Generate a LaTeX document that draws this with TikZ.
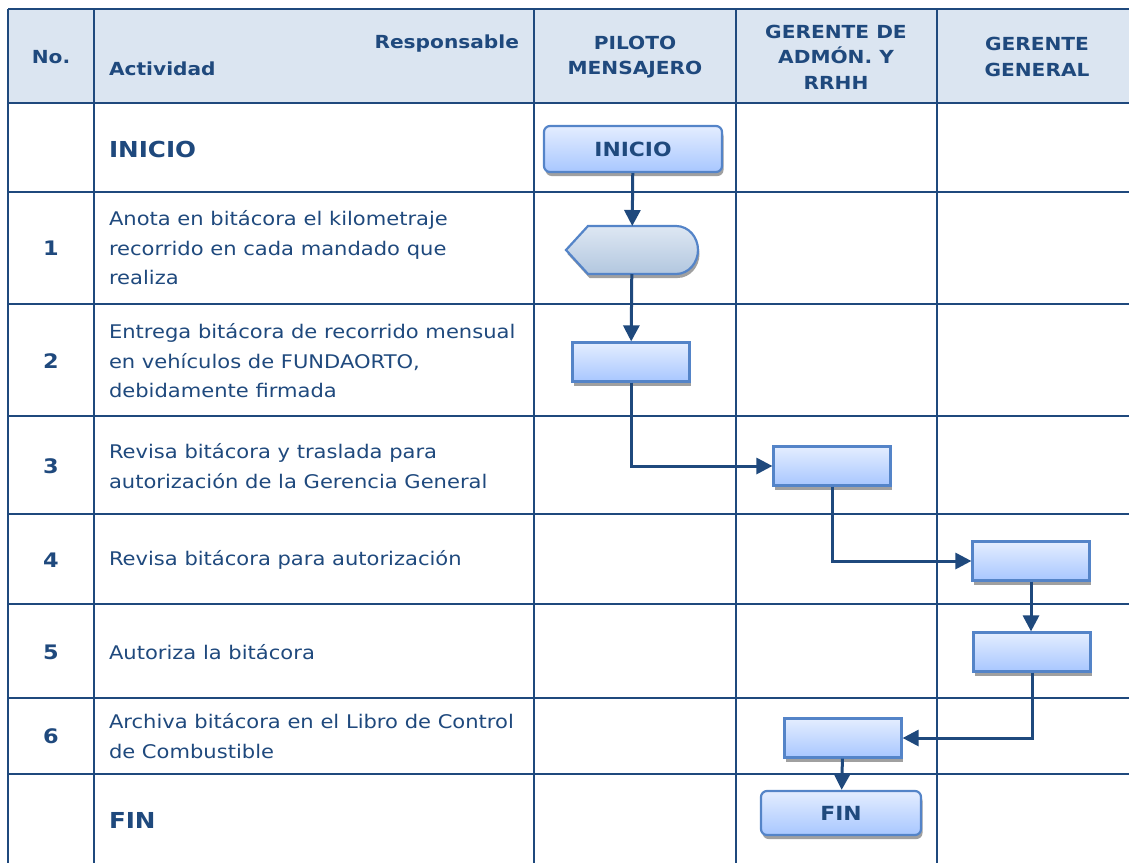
\documentclass[tikz,border=0pt]{standalone}
\usepackage{fontspec}
\setmainfont{DejaVu Sans}[FakeStretch=1.12]
\usetikzlibrary{arrows.meta,positioning,calc,shadows}
\definecolor{ink}{RGB}{31,73,125}
\definecolor{headfill}{RGB}{219,229,241}
\definecolor{boxtop}{RGB}{228,237,255}
\definecolor{boxbot}{RGB}{168,199,255}
\definecolor{boxline}{RGB}{84,132,200}
\definecolor{hextop}{RGB}{222,231,243}
\definecolor{hexbot}{RGB}{178,199,223}
\definecolor{shade}{RGB}{160,160,160}
\tikzset{
  every picture/.style={color=ink, line width=2pt, font=\fontsize{18.8}{29.5}\selectfont},
  grid/.style={draw=ink, line width=2.7pt},
  shad/.style={drop shadow={shadow xshift=1.5pt, shadow yshift=-4pt, fill=shade, opacity=1}},
  task/.style={draw=boxline, line width=2.2pt, top color=boxtop, bottom color=boxbot, shad,
    minimum width=117pt, minimum height=39pt, inner sep=0pt},
  term/.style={task, rounded corners=6pt, text=ink, font=\fontsize{19.5}{22}\selectfont\bfseries},
  hexslot/.style={minimum width=130pt, minimum height=46pt, inner sep=0pt},
  hexa/.style={draw=boxline, line width=2.2pt, top color=hextop, bottom color=hexbot, shad},
  flow/.style={-{Triangle[length=16pt,width=16pt]}, draw=ink, line width=3pt},
  head/.style={font=\fontsize{18}{25.5}\selectfont\bfseries, text=ink, align=center, inner sep=0pt},
  txt/.style={text=ink, anchor=west, align=left, inner sep=0pt},
  num/.style={font=\fontsize{20}{22}\selectfont\bfseries, text=ink, inner sep=0pt},
  rowmark/.style={font=\fontsize{22}{26}\selectfont\bfseries, text=ink, anchor=west, inner sep=0pt},
}

\begin{document}
\begin{tikzpicture}[x=1pt, y=-1pt]
  \useasboundingbox (0,0) rectangle (1129,862);
  % table: header band, row lines, column lines
  \fill[headfill] (8,9) rectangle (1131,103);
  \foreach \yy in {9,103,192,304,416,514,604,698,774}
    \draw[grid] (8,\yy) -- (1131,\yy);
  \foreach \xx in {8,94,534,736,937}
    \draw[grid] (\xx,9) -- (\xx,864);

  \node[head] (hno) at (51,57) {No.};
  \node[head, anchor=east] (hresp) at (520,44) {Responsable};
  \node[head, anchor=west] (hact) at (108,69) {Actividad};
  \node[head] (hpil) at (635,57) {PILOTO\\MENSAJERO};
  \node[head] (hadm) at (836,57) {GERENTE DE\\ADMÓN. Y\\RRHH};
  \node[head] (hger) at (1037,57) {GERENTE\\GENERAL};

  \node[rowmark] (tini) at (108,149) {INICIO};
  \node[num] (n1) at (51,248) {1};
  \node[txt] (t1) at (108,248) {Anota en bitácora el kilometraje\\recorrido en cada mandado que\\realiza};
  \node[num] (n2) at (51,361) {2};
  \node[txt] (t2) at (108,361) {Entrega bitácora de recorrido mensual\\en vehículos de FUNDAORTO,\\debidamente firmada};
  \node[num] (n3) at (51,466) {3};
  \node[txt] (t3) at (108,466) {Revisa bitácora y traslada para\\autorización de la Gerencia General};
  \node[num] (n4) at (51,560) {4};
  \node[txt] (t4) at (108,560) {Revisa bitácora para autorización};
  \node[num] (n5) at (51,652) {5};
  \node[txt] (t5) at (108,652) {Autoriza la bitácora};
  \node[num] (n6) at (51,736) {6};
  \node[txt] (t6) at (108,736) {Archiva bitácora en el Libro de Control\\de Combustible};
  \node[rowmark] (tfin) at (108,820) {FIN};

  \node[term, minimum width=178pt, minimum height=46pt] (ini) at (633,149) {INICIO};
  \node[hexslot] (s1) at (632,250) {};
  \path[hexa] (s1.west) -- ([xshift=22pt]s1.north west) -- ([xshift=-22pt]s1.north east)
    to[out=0, in=90] (s1.east) to[out=-90, in=0] ([xshift=-22pt]s1.south east)
    -- ([xshift=22pt]s1.south west) -- cycle;
  \node[task] (s2) at (631,362) {};
  \node[task] (s3) at (832,466) {};
  \node[task] (s4) at (1031,561) {};
  \node[task] (s5) at (1032,652) {};
  \node[task] (s6) at (843,738) {};
  \node[term, minimum width=160pt, minimum height=44pt] (fin) at (841,813) {FIN};

  \draw[flow] (ini) -- (s1);
  \draw[flow] (s1) -- (s2);
  \draw[flow] (s2.south) |- (s3.west);
  \draw[flow] (s3.south) |- (s4.west);
  \draw[flow] (s4.south) -- (s4.south |- s5.north);
  \draw[flow] (s5.south) |- (s6.east);
  \draw[flow] (s6) -- (fin);
\end{tikzpicture}
\end{document}
